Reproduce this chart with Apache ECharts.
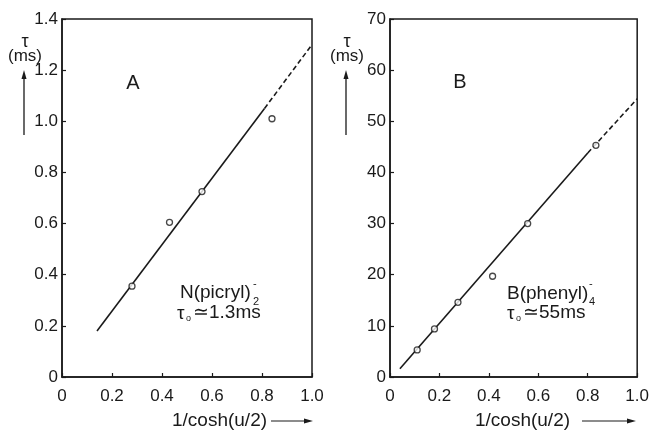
<!DOCTYPE html>
<html>
<head>
<meta charset="utf-8">
<script src="https://cdn.jsdelivr.net/npm/echarts@6/dist/echarts.min.js"></script>
<style>
  html, body { margin: 0; padding: 0; background: #fff; }
  #chart { width: 652px; height: 433px; }
</style>
</head>
<body>
<div id="chart"></div>
<script>
// panel A: N(picryl)2-
var aX = [0.28, 0.43, 0.56, 0.84];
var aY = [0.355, 0.605, 0.725, 1.01];
var aFitX = [0.14, 0.81, 1.0];   // solid up to second point, dashed after
var aFitY = [0.18, 1.05, 1.3];

// panel B: B(phenyl)4-
var bX = [0.11, 0.18, 0.275, 0.415, 0.557, 0.833];
var bY = [5.3, 9.4, 14.6, 19.7, 30, 45.3];
var bFitX = [0.04, 0.80, 1.0];
var bFitY = [1.6, 43.8, 54.4];

var xTickLabels = ['0', '0.2', '0.4', '0.6', '0.8', '1.0'];
var aTickLabels = ['0', '0.2', '0.4', '0.6', '0.8', '1.0', '1.2', '1.4'];
var bTickLabels = ['0', '10', '20', '30', '40', '50', '60', '70'];

var ink = '#1a1a1a';
var FONT = '"Liberation Sans", Arial, sans-serif';

function pairs(xs, ys) {
  return xs.map(function (x, i) { return [x, ys[i]]; });
}

function xAxisFor(idx) {
  return {
    type: 'value', gridIndex: idx, min: 0, max: 1, interval: 0.2,
    axisLine: { show: true, lineStyle: { color: ink, width: 1.5 } },
    axisTick: { show: true, inside: true, length: 4, lineStyle: { color: ink, width: 1.2 } },
    splitLine: { show: false },
    axisLabel: {
      color: ink, fontFamily: FONT, fontSize: 17, margin: 11,
      formatter: function (v) { return xTickLabels[Math.round(v / 0.2)]; }
    }
  };
}

function yAxisFor(idx, max, step, labels) {
  return {
    type: 'value', gridIndex: idx, min: 0, max: max, interval: step,
    axisLine: { show: true, lineStyle: { color: ink, width: 1.5 } },
    axisTick: { show: true, inside: true, length: 4, lineStyle: { color: ink, width: 1.2 } },
    splitLine: { show: false },
    axisLabel: {
      color: ink, fontFamily: FONT, fontSize: 17, margin: 4,
      formatter: function (v) { return labels[Math.round(v / step)]; }
    }
  };
}

function fitSeries(idx, xs, ys) {
  return [
    {
      type: 'line', xAxisIndex: idx, yAxisIndex: idx, symbol: 'none', silent: true,
      data: pairs(xs.slice(0, 2), ys.slice(0, 2)),
      lineStyle: { color: ink, width: 1.6 }, z: 2
    },
    {
      type: 'line', xAxisIndex: idx, yAxisIndex: idx, symbol: 'none', silent: true,
      data: pairs(xs.slice(1), ys.slice(1)),
      lineStyle: { color: ink, width: 1.6, type: [5, 3] }, z: 2
    }
  ];
}

function pointSeries(idx, xs, ys) {
  return {
    type: 'scatter', xAxisIndex: idx, yAxisIndex: idx,
    symbol: 'circle', symbolSize: 6,
    itemStyle: { color: '#fff', borderColor: ink, borderWidth: 1.3 },
    data: pairs(xs, ys), z: 5
  };
}

function txt(x, y, s, size, align) {
  return {
    type: 'text', x: x, y: y, silent: true,
    style: {
      text: s, fill: ink, font: size + 'px ' + FONT,
      textAlign: align || 'left', textVerticalAlign: 'middle'
    }
  };
}

function upArrow(x, y1, y2) {
  return [
    { type: 'line', silent: true, shape: { x1: x, y1: y1, x2: x, y2: y2 + 6 }, style: { stroke: ink, lineWidth: 1.3 } },
    { type: 'polygon', silent: true, shape: { points: [[x, y2], [x - 2.5, y2 + 9], [x + 2.5, y2 + 9]] }, style: { fill: ink } }
  ];
}

function rightArrow(x1, x2, y) {
  return [
    { type: 'line', silent: true, shape: { x1: x1, y1: y, x2: x2 - 6, y2: y }, style: { stroke: ink, lineWidth: 1.2 } },
    { type: 'polygon', silent: true, shape: { points: [[x2, y], [x2 - 9, y - 2.5], [x2 - 9, y + 2.5]] }, style: { fill: ink } }
  ];
}

var graphics = [].concat(
  // panel A labels
  [txt(133, 83, 'A', 20, 'center'),
   txt(25, 42, 'τ', 18, 'center'),
   txt(25, 56, '(ms)', 17, 'center')],
  upArrow(24, 135, 70),
  [txt(180, 293, 'N(picryl)', 19),
   txt(253, 284, '-', 11),
   txt(253, 302, '2', 11),
   txt(177, 314, 'τ', 19),
   txt(186, 319, 'o', 9),
   txt(193, 313, '≃1.3ms', 19),
   txt(172, 421, '1/cosh(u/2)', 19)],
  rightArrow(271, 313, 421),
  // panel B labels
  [txt(460, 82, 'B', 20, 'center'),
   txt(347, 42, 'τ', 18, 'center'),
   txt(347, 56, '(ms)', 17, 'center')],
  upArrow(346, 135, 70),
  [txt(507, 294, 'B(phenyl)', 19),
   txt(589, 284, '-', 11),
   txt(589, 302, '4', 11),
   txt(507, 314, 'τ', 19),
   txt(516, 319, 'o', 9),
   txt(523, 313, '≃55ms', 19),
   txt(475, 421, '1/cosh(u/2)', 19)],
  rightArrow(582, 636, 421)
);

var chart = echarts.init(document.getElementById('chart'));
chart.setOption({
  animation: false,
  backgroundColor: '#fff',
  grid: [
    { left: 62, top: 19, width: 250, height: 358, show: true, borderColor: ink, borderWidth: 1.5, backgroundColor: 'transparent' },
    { left: 390, top: 19, width: 250, height: 358, show: true, borderColor: ink, borderWidth: 1.5, backgroundColor: 'transparent' }
  ],
  xAxis: [xAxisFor(0), xAxisFor(1)],
  yAxis: [yAxisFor(0, 1.4, 0.2, aTickLabels), yAxisFor(1, 70, 10, bTickLabels)],
  series: [].concat(
    fitSeries(0, aFitX, aFitY),
    [pointSeries(0, aX, aY)],
    fitSeries(1, bFitX, bFitY),
    [pointSeries(1, bX, bY)]
  ),
  graphic: graphics
});
</script>
</body>
</html>
